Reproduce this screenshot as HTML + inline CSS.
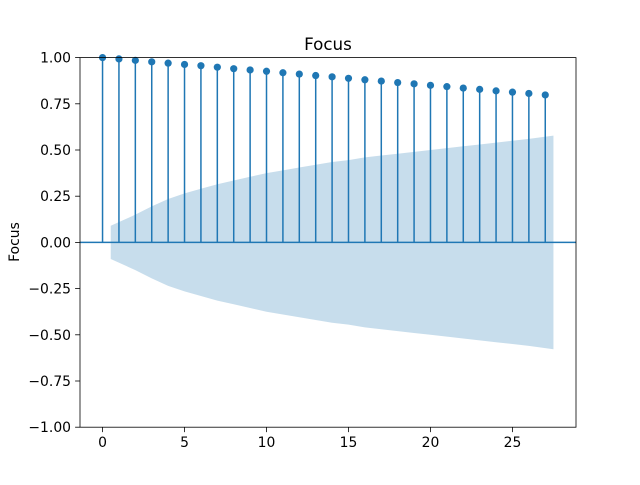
<!DOCTYPE html>
<html><head><meta charset="utf-8"><style>
body{margin:0;background:#fff}
svg text{font-family:"DejaVu Sans","Liberation Sans",sans-serif;fill:#000}
</style></head><body>
<svg id="chart" width="640" height="480">
<rect width="640" height="480" fill="#fff"/>
<g id="plot"></g>
<rect x="80" y="57.6" width="496" height="369.6" fill="none" stroke="#000" stroke-width="0.8"/>
<text x="328" y="50" font-size="16.7" text-anchor="middle">Focus</text>
<text x="19" y="242" font-size="13.9" text-anchor="middle" transform="rotate(-90 19 242)">Focus</text>
<g id="xt"></g><g id="yt"></g>
</svg>
<script>
const lags=[0,1,2,3,4,5,6,7,8,9,10,11,12,13,14,15,16,17,18,19,20,21,22,23,24,25,26,27];
const acfValues=[1.0,0.993,0.985,0.977,0.97,0.963,0.956,0.948,0.94,0.933,0.926,0.918,0.911,0.903,0.896,0.888,0.88,0.873,0.865,0.858,0.85,0.843,0.835,0.828,0.82,0.813,0.806,0.798];
const confLags=[0.5,2,3,4,5,6,7,8,9,10,11,12,13,14,15,16,17,18,19,20,21,22,23,24,25,26,27.5];
const confWidth=[0.09,0.15,0.195,0.235,0.265,0.29,0.315,0.335,0.355,0.375,0.39,0.405,0.42,0.435,0.445,0.46,0.47,0.48,0.49,0.5,0.51,0.52,0.53,0.54,0.55,0.56,0.578];
const xTicks=[0,5,10,15,20,25];
const yTicks=[-1.0,-0.75,-0.5,-0.25,0.0,0.25,0.5,0.75,1.0];
const X0=-1.375,X1=28.875,Y0=-1,Y1=1;
const sx=v=>80+(v-X0)/(X1-X0)*496, sy=v=>427.2-(v-Y0)/(Y1-Y0)*369.6;
const NS="http://www.w3.org/2000/svg";
function mk(t,a,p){const e=document.createElementNS(NS,t);for(const k in a)e.setAttribute(k,a[k]);p.appendChild(e);return e;}
const plot=document.getElementById('plot');
let d='';
confLags.forEach((l,i)=>{d+=(i?'L':'M')+sx(l)+' '+sy(confWidth[i]);});
for(let i=confLags.length-1;i>=0;i--)d+='L'+sx(confLags[i])+' '+sy(-confWidth[i]);
const band=mk('path',{d:d+'Z',fill:'#1f77b4','fill-opacity':0.25},plot);


const zl=mk('line',{x1:80,x2:576,y1:sy(0),y2:sy(0),stroke:'#1f77b4','stroke-width':1.5},plot);


lags.forEach((l,i)=>{
 const s=mk('line',{x1:sx(l),x2:sx(l),y1:sy(0),y2:sy(acfValues[i]),stroke:'#1f77b4','stroke-width':1.5},plot);
 
 
 const c=mk('circle',{cx:sx(l),cy:sy(acfValues[i]),r:3.6,fill:'#1f77b4'},plot);
 
 
});
const xt=document.getElementById('xt'),yt=document.getElementById('yt');
xTicks.forEach(v=>{
 mk('line',{x1:sx(v),x2:sx(v),y1:427.2,y2:432.1,stroke:'#000','stroke-width':0.8},xt);
 const t=mk('text',{x:sx(v),y:447,'font-size':13.9,'text-anchor':'middle'},xt);t.textContent=v;
 
 
});
yTicks.forEach(v=>{
 mk('line',{x1:75.1,x2:80,y1:sy(v),y2:sy(v),stroke:'#000','stroke-width':0.8},yt);
 const t=mk('text',{x:71,y:sy(v)+5,'font-size':13.9,'text-anchor':'end'},yt);t.textContent=(v<0?'\u2212':'')+Math.abs(v).toFixed(2);
 
 
});
</script>
</body></html>
